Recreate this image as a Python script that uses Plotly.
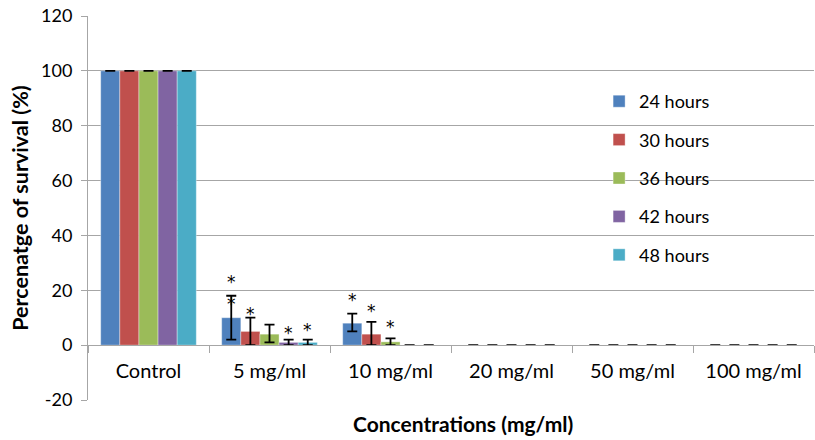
import plotly.graph_objects as go

categories = ["Control", "5 mg/ml", "10 mg/ml", "20 mg/ml", "50 mg/ml", "100 mg/ml"]
series_names = ["24 hours", "30 hours", "36 hours", "42 hours", "48 hours"]
colors = ["#4F81BD", "#C0504D", "#9BBB59", "#8064A2", "#4BACC6"]
y_tickvals = [-20, 0, 20, 40, 60, 80, 100, 120]
y_ticktext = ["-20", "0", "20", "40", "60", "80", "100", "120"]

h24 = [100, 10, 8, 0, 0, 0]
h30 = [100, 5, 4, 0, 0, 0]
h36 = [100, 4, 1.2, 0, 0, 0]
h42 = [100, 1, 0, 0, 0, 0]
h48 = [100, 1, 0, 0, 0, 0]

e24_plus = [0, 8, 3.5, 0, 0, 0]
e24_minus = [0, 8, 3, 0, 0, 0]
e30_plus = [0, 5, 4.5, 0, 0, 0]
e30_minus = [0, 5, 4, 0, 0, 0]
e36_plus = [0, 3.5, 1.3, 0, 0, 0]
e36_minus = [0, 3, 1.2, 0, 0, 0]
e42 = [0, 1, 0, 0, 0, 0]
e48 = [0, 1, 0, 0, 0, 0]

# significance asterisks: category index, series index, y value (centre), text
star_cat = [1, 1, 1, 1, 2, 2, 2]
star_series = [0, 1, 3, 4, 0, 1, 2]
star_y = [20.45, 12.8, 5.8, 7.0, 18.0, 14.0, 7.9]
star_text = ["*<br>*", "*", "*", "*", "*", "*", "*"]

values = [h24, h30, h36, h42, h48]
err_plus = [e24_plus, e30_plus, e36_plus, e42, e48]
err_minus = [e24_minus, e30_minus, e36_minus, e42, e48]

bargap = 0.21
fig = go.Figure()
for i, name in enumerate(series_names):
    fig.add_trace(go.Bar(
        x=categories, y=values[i], name=name, legendgroup=name,
        marker=dict(color=colors[i], line=dict(width=0.6, color="rgba(255,255,255,0.6)")),
        error_y=dict(type="data", symmetric=False, array=err_plus[i], arrayminus=err_minus[i],
                     color="black", thickness=1.8, width=5),
    ))

w = (1 - bargap) / len(series_names)
for c, s, yv, t in zip(star_cat, star_series, star_y, star_text):
    fig.add_annotation(x=c + (s - 2) * w, y=yv, text=t, showarrow=False,
                       font=dict(size=17, color="black", family="DejaVu Sans"), yshift=-4,
                       borderpad=0)

fig.add_annotation(xref="paper", yref="paper", x=0.5165, y=-0.06, text="<b>Concentrations (mg/ml)</b>",
                   showarrow=False, xanchor="center", yanchor="middle",
                   font=dict(size=21, family="Lato", color="black"))

fig.update_layout(
    width=815, height=440,
    margin=dict(l=88, r=1, t=16, b=40),
    plot_bgcolor="white", paper_bgcolor="white",
    barmode="group", bargap=bargap, bargroupgap=0,
    font=dict(family="Lato", size=16, color="black"),
    showlegend=True,
    legend=dict(x=0.704, y=0.8255, xanchor="left", yanchor="top", tracegroupgap=12,
                font=dict(size=18), bgcolor="rgba(0,0,0,0)"),
    xaxis=dict(
        type="category", anchor="free", position=20 / 140,
        showline=True, linecolor="#A6A6A6", linewidth=1,
        ticks="outside", ticklen=7, tickcolor="#A6A6A6", tickson="boundaries",
        showgrid=False, zeroline=False, ticklabelstandoff=8,
        tickfont=dict(size=20),
    ),
    yaxis=dict(
        range=[-20, 120], tickvals=y_tickvals, ticktext=y_ticktext,
        showline=True, linecolor="#A6A6A6", linewidth=1,
        ticks="outside", ticklen=6, tickcolor="#A6A6A6", ticklabelstandoff=5,
        showgrid=True, gridcolor="#A6A6A6", gridwidth=1, zeroline=False,
        tickfont=dict(size=18),
        title=dict(text="<b>Percenatge of survival (%)</b>", font=dict(size=21.5), standoff=6),
    ),
)

fig.write_html("out.html")
